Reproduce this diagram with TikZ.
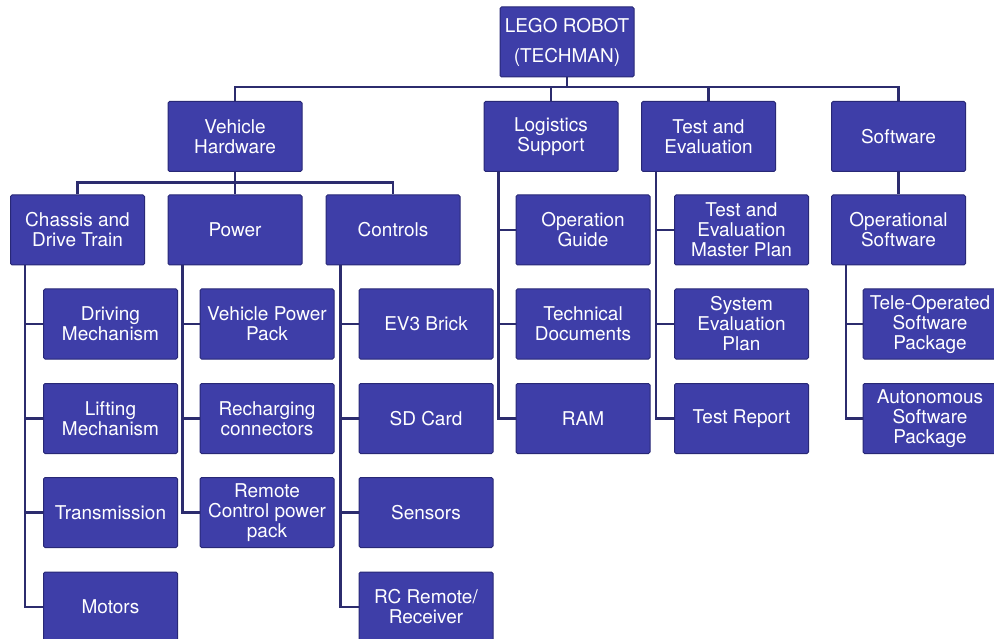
\documentclass[tikz,border=0pt]{standalone}
\usepackage{fontspec}
\setmainfont{TeX Gyre Heros}
\definecolor{boxblue}{RGB}{62,62,168}
\definecolor{boxedge}{RGB}{40,40,118}
\definecolor{wire}{RGB}{44,44,110}
\tikzset{
    wbs/.style={draw=boxedge, line width=1pt, fill=boxblue, text=white, rounded corners=1.5pt,
        minimum width=134pt, minimum height=70pt, inner sep=0pt, align=center,
        font=\fontsize{19}{20}\selectfont},
    wire/.style={draw=wire, line width=2.5pt}
}
\begin{document}
\begin{tikzpicture}[x=1pt,y=-1pt]
            \useasboundingbox (0,0) rectangle (994,639);
            \node[wbs, font=\fontsize{19}{30}\selectfont] (root) at (567,42) {LEGO ROBOT\\(TECHMAN)};
            \node[wbs] (vh) at (235,136.5) {Vehicle\\Hardware};
            \node[wbs] (ls) at (551,136.5) {Logistics\\Support};
            \node[wbs] (te) at (708.5,136.5) {Test and\\Evaluation};
            \node[wbs] (sw) at (898.5,136.5) {Software};
            \node[wbs] (ch) at (77.5,230) {Chassis and\\Drive Train};
            \node[wbs] (pw) at (235,230) {Power};
            \node[wbs] (ct) at (393,230) {Controls};
            \node[wbs] (og) at (583,230) {Operation\\Guide};
            \node[wbs] (tm) at (741.5,230) {Test and\\Evaluation\\Master Plan};
            \node[wbs] (os) at (898.5,230) {Operational\\Software};
            \node[wbs] (dm) at (110.5,324) {Driving\\Mechanism};
            \node[wbs] (lm) at (110.5,418.5) {Lifting\\Mechanism};
            \node[wbs] (trn) at (110.5,512.5) {Transmission};
            \node[wbs] (mo) at (110.5,607) {Motors};
            \node[wbs] (vp) at (267,324) {Vehicle Power\\Pack};
            \node[wbs] (rc) at (267,418.5) {Recharging\\connectors};
            \node[wbs] (rp) at (267,512.5) {Remote\\Control power\\pack};
            \node[wbs] (ev) at (426,324) {EV3 Brick};
            \node[wbs] (sd) at (426,418.5) {SD Card};
            \node[wbs] (sn) at (426,512.5) {Sensors};
            \node[wbs] (rr) at (426,607) {RC Remote/\\Receiver};
            \node[wbs] (td) at (583,324) {Technical\\Documents};
            \node[wbs] (ram) at (583,418.5) {RAM};
            \node[wbs] (se) at (741.5,324) {System\\Evaluation\\Plan};
            \node[wbs] (rep) at (741.5,418.5) {Test Report};
            \node[wbs] (to) at (930,324) {Tele-Operated\\Software\\Package};
            \node[wbs] (au) at (930,418.5) {Autonomous\\Software\\Package};
            \draw[wire] (root.south) -- ++(0,11);
            \draw[wire] (vh.north) -- ++(0,-14) -| (sw.north);
            \foreach \n in {ls,te}
                    \draw[wire] (\n.north) -- ++(0,-14);
            \draw[wire] (ch.north) -- ++(0,-12) -| (ct.north);
            \draw[wire] (vh.south) -- (pw.north);
            \draw[wire] (sw.south) -- (os.north);
            \foreach \p/\c in {ch/dm,ch/lm,ch/trn,ch/mo,pw/vp,pw/rc,pw/rp,ct/ev,ct/sd,ct/sn,ct/rr,
                    ls/og,ls/td,ls/ram,te/tm,te/se,te/rep,os/to,os/au}
            {
                    \draw[wire] ([xshift=15pt]\p.south west) |- (\c.west);
            }
\end{tikzpicture}
\end{document}
